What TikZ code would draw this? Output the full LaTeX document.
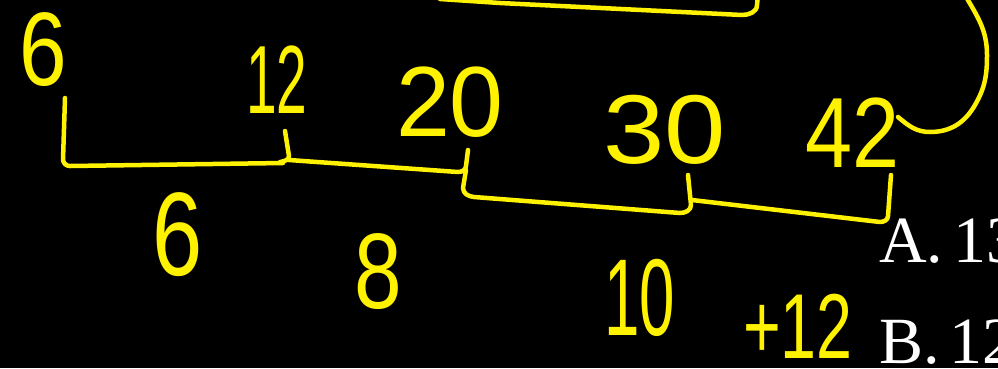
\documentclass[tikz,border=0pt]{standalone}
\usepackage{fontspec}
\setmainfont{Liberation Serif}
\newfontfamily\handfont{Liberation Sans}
\tikzset{
 hand/.style={draw=yellow, line width=4.5pt, line cap=round, line join=round},
 num/.style={text=yellow, inner sep=0pt, font=\handfont\fontsize{95}{95}\selectfont},
 choice/.style={text=white, inner sep=0pt, anchor=base west, font=\fontsize{66}{66}\selectfont},
}
\newcommand\hw[3]{\scalebox{#1}[#2]{#3}}
\begin{document}
\begin{tikzpicture}[x=1pt,y=-1pt]
\fill[black] (0,0) rectangle (998,368);
\useasboundingbox (0,0) rectangle (998,368);
\clip (0,0) rectangle (998,368);
% numbers of the sequence
\node[num] (t6) at (43,50) {\hw{0.9}{1.1}{6}};
\node[num] (t12) at (277,80) {\hw{0.58}{1.02}{12}};
\node[num] (t20) at (450,102) {\hw{1.02}{1.05}{20}};
\node[num] (t30) at (665,130) {\hw{1.16}{1.03}{30}};
\node[num] (t42) at (853,133) {\hw{0.89}{1.05}{42}};
% differences
\node[num] (d6) at (178,235) {\hw{0.95}{1.25}{6}};
\node[num] (d8) at (378,272) {\hw{0.9}{1.13}{8}};
\node[num] (d10) at (640,298) {\hw{0.67}{1.15}{10}};
\node[num] (d12) at (798,326) {\hw{0.68}{0.97}{+12}};
% choices
\node[choice] (a) at (879,262) {A.\hspace{0.15em}13};
\node[choice] (b) at (879,363) {B.\hspace{0.15em}12};
% brackets
\draw[hand] (65,98) -- (63,160) to[out=-80,in=180] (70,166) -- (283,163);
\draw[hand] (285,131) -- (289,156) to[out=-90,in=10] (280,162);
\draw[hand] (289,160) -- (458,172) to[out=0,in=-90] (466,166) -- (468,150);
\draw[hand] (466,170) -- (463,188) to[out=-90,in=175] (474,197) -- (680,213) to[out=0,in=-90] (691,205) -- (688,175);
\draw[hand] (692,200) -- (880,222) to[out=0,in=-90] (888,216) -- (891,175);
% top line
\draw[hand] (440,-1) -- (500,3) -- (742,15) to[out=0,in=-90] (757,5) -- (758,-5);
% right curve
\draw[hand] (898,117) to[out=-40,in=180] (930,132) to[out=0,in=-120] (975,105) to[out=60,in=-90] (987,55) to[out=90,in=-60] (965,-5);
\end{tikzpicture}
\end{document}
